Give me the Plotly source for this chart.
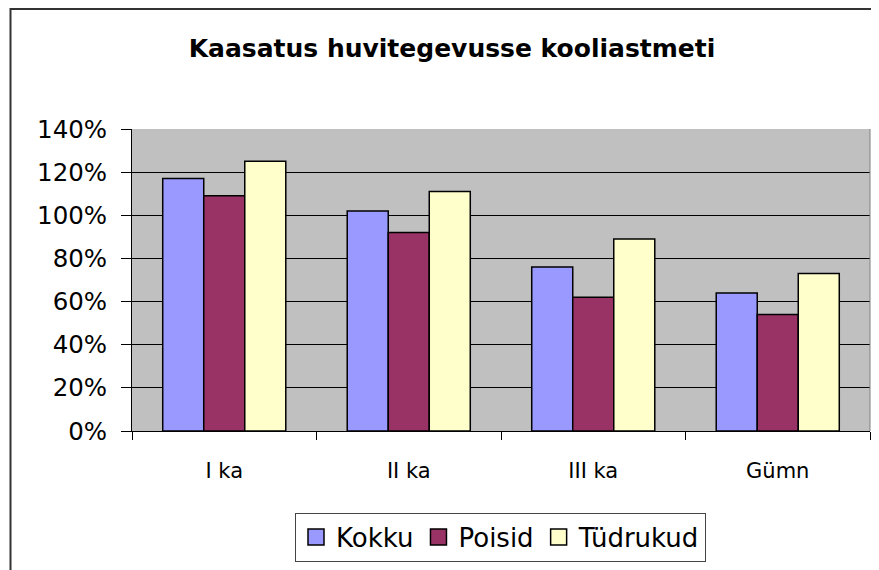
import plotly.graph_objects as go

categories = ["I ka", "II ka", "III ka", "Gümn"]
kokku = [1.17, 1.02, 0.76, 0.64]
poisid = [1.09, 0.92, 0.62, 0.54]
tydrukud = [1.25, 1.11, 0.89, 0.73]
series_names = ["Kokku", "Poisid", "Tüdrukud"]
colors = ["#9999FF", "#993366", "#FFFFCC"]
y_tickvals = [0, 0.2, 0.4, 0.6, 0.8, 1.0, 1.2, 1.4]

FONT = "DejaVu Sans, Arial, sans-serif"
OFF = 8  # page body margin
W, H = 879 - OFF, 570 - OFF
L, T = 132 - OFF, 129 - OFF
R = W - (870 - OFF)
B = H - (431 - OFF)
pw, ph = W - L - R, H - T - B

fig = go.Figure()
for name, vals, col in zip(series_names, [kokku, poisid, tydrukud], colors):
    fig.add_trace(go.Bar(
        x=categories, y=vals, name=name, showlegend=False,
        marker=dict(color=col, line=dict(color="#000000", width=1.5)),
    ))
# legend entries with larger square swatches
for name, col in zip(series_names, colors):
    fig.add_trace(go.Scatter(
        x=[categories[0]], y=[None], name=name, mode="markers",
        marker=dict(symbol="square", size=18, color=col,
                    line=dict(color="#000000", width=1.5)),
        hoverinfo="skip",
    ))

fig.update_layout(
    width=W, height=H,
    margin=dict(l=L, r=R, t=T, b=B, autoexpand=False),
    paper_bgcolor="white",
    plot_bgcolor="#C0C0C0",
    barmode="group", bargap=0.333, bargroupgap=0,
    title=dict(text="<b>Kaasatus huvitegevusse kooliastmeti</b>",
               x=(452 - OFF) / W, xanchor="center", y=1 - (48 - OFF) / H, yanchor="middle",
               font=dict(family=FONT, size=25, color="#000000")),
    legend=dict(orientation="h", x=(500.5 - 132) / pw, xanchor="center",
                y=(431 - 512.7) / ph, yanchor="top",
                bordercolor="#444444", borderwidth=1, bgcolor="white",
                font=dict(family=FONT, size=26, color="#000000"),
                itemsizing="trace", itemwidth=30, traceorder="normal"),
    font=dict(family=FONT, color="#000000"),
    showlegend=True,
)
fig.update_yaxes(range=[0, 1.4], tickvals=y_tickvals, tickformat=".0%",
                 ticks="outside", ticklen=10, tickcolor="#000000",
                 showline=True, linecolor="#000000", linewidth=1,
                 showgrid=True, gridcolor="#000000", gridwidth=1,
                 zeroline=False, tickfont=dict(family=FONT, size=24.5, color="#000000"),
                 ticklabelstandoff=9)
fig.update_xaxes(ticks="outside", tickson="boundaries", ticklen=8, tickcolor="#000000",
                 showline=True, linecolor="#000000", linewidth=1,
                 showgrid=False, tickfont=dict(family=FONT, size=21, color="#000000"),
                 ticklabelstandoff=21)

# right plot border and outer chart frame
fig.add_shape(type="line", xref="paper", yref="paper", x0=1, x1=1, y0=0, y1=1,
              line=dict(color="#808080", width=1))
fig.add_shape(type="rect", xref="paper", yref="paper",
              x0=(10.5 - 132) / pw, x1=1.2, y0=-0.8, y1=1 + (T - 1) / ph,
              line=dict(color="#333333", width=2), fillcolor="rgba(0,0,0,0)", layer="below")

fig.write_html("out.html")
